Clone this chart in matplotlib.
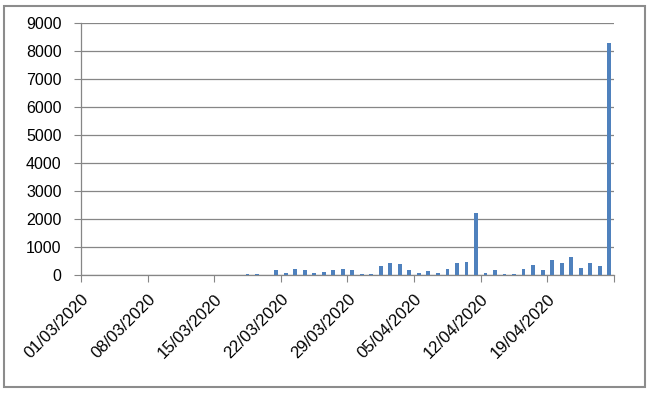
import matplotlib.pyplot as plt
import matplotlib.transforms as mtransforms
from matplotlib.patches import Rectangle
from datetime import date, timedelta

# daily values, 01/03/2020 .. 25/04/2020
start = date(2020, 3, 1)
values = [0, 0, 0, 0, 0, 0, 0, 0, 0, 0,
          0, 0, 0, 0, 0, 0, 0, 30, 40, 0,
          190, 85, 230, 170, 85, 105, 170, 200, 190, 45,
          48, 310, 440, 395, 180, 72, 150, 78, 216, 433,
          481, 2200, 72, 180, 48, 48, 229, 340, 192, 553,
          433, 635, 240, 433, 313, 8280]
days = [start + timedelta(days=i) for i in range(len(values))]
tick_labels = ["01/03/2020", "08/03/2020", "15/03/2020", "22/03/2020",
               "29/03/2020", "05/04/2020", "12/04/2020", "19/04/2020"]

plt.rcParams['font.family'] = ['Liberation Sans', 'DejaVu Sans']
grey = "#868686"

fig = plt.figure(figsize=(6.5, 3.93), dpi=100)
ax = fig.add_axes([81 / 650, 118 / 393, 533 / 650, 252 / 393])

x = list(range(len(days)))
ax.bar(x, values, width=0.4, color="#4F81BD", zorder=3)

ax.set_xlim(-0.5, len(days) - 0.5)
ax.set_ylim(0, 9000)
ax.set_yticks(range(0, 9001, 1000))
ax.yaxis.grid(True, color=grey, linewidth=0.9, zorder=0)

tick_pos = [i - 0.5 for i in range(0, len(days) + 1, 7)]
ax.set_xticks(tick_pos)
ax.set_xticklabels(tick_labels + [""], rotation=45, ha="right", va="top",
                   rotation_mode="anchor", fontsize=12)
shift = mtransforms.ScaledTranslation(6 / 72, 0, fig.dpi_scale_trans)
for lab in ax.get_xticklabels():
    lab.set_transform(lab.get_transform() + shift)
ax.tick_params(axis="x", length=5, color=grey, pad=7)
ax.tick_params(axis="y", length=5, color=grey, pad=9, labelsize=11.5)

for s in ["top", "right"]:
    ax.spines[s].set_visible(False)
for s in ["left", "bottom"]:
    ax.spines[s].set_color(grey)
    ax.spines[s].set_linewidth(0.9)

# chart area border
fig.patches.append(Rectangle((4 / 650, 6 / 393), 641 / 650, 381 / 393,
                             transform=fig.transFigure, fill=False,
                             edgecolor="#8c8c8c", linewidth=1.5))

fig.savefig("out.png", dpi=100)
